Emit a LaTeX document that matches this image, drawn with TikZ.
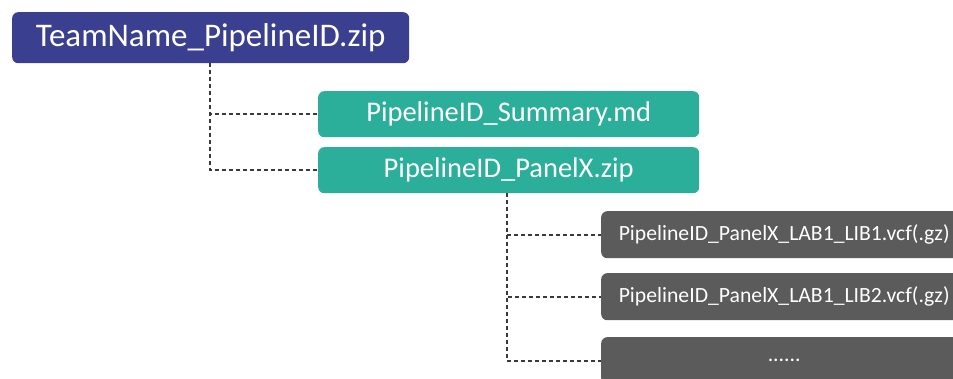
\documentclass[tikz,border=0pt]{standalone}
\usepackage{fontspec}
\setmainfont{Carlito}
\definecolor{topblue}{HTML}{3B3F8F}
\definecolor{teal2}{HTML}{2BAF9A}
\definecolor{grayb}{HTML}{5B5B5B}
\definecolor{dashc}{HTML}{3A3A3A}
\begin{document}
\begin{tikzpicture}[x=1pt,y=-1pt,
  boxbase/.style={rounded corners=6pt, text=white, inner sep=0pt, anchor=north west},
  topbox/.style={boxbase, fill=topblue, minimum width=397pt, minimum height=51pt, font=\fontsize{33}{38}\selectfont},
  tealbox/.style={boxbase, fill=teal2, minimum width=381pt, minimum height=46pt, font=\fontsize{28.5}{32}\selectfont},
  graybox/.style={boxbase, fill=grayb, minimum width=366pt, minimum height=47pt, font=\fontsize{21.7}{25}\selectfont},
  conn/.style={draw=dashc, line width=1.8pt, dash pattern=on 4pt off 3pt}]
\useasboundingbox (0,0) rectangle (953,379);
\node[topbox] (top) at (12,12) {TeamName\_PipelineID.zip};
\node[tealbox] (sum) at (318,91) {PipelineID\_Summary.md};
\node[tealbox] (pan) at (318,147) {PipelineID\_PanelX.zip};
\node[graybox] (g1) at (601,211) {PipelineID\_PanelX\_LAB1\_LIB1.vcf(.gz)};
\node[graybox] (g2) at (601,273) {PipelineID\_PanelX\_LAB1\_LIB2.vcf(.gz)};
\node[graybox] (g3) at (601,337) {......};
\coordinate (t1) at (210,63);
\coordinate (p1) at (507,193);
\draw[conn] (t1) |- (sum.west);
\draw[conn] (t1) |- (pan.west);
\draw[conn] (p1) |- (g1.west);
\draw[conn] (p1) |- (g2.west);
\draw[conn] (p1) |- (g3.west);
\end{tikzpicture}
\end{document}
